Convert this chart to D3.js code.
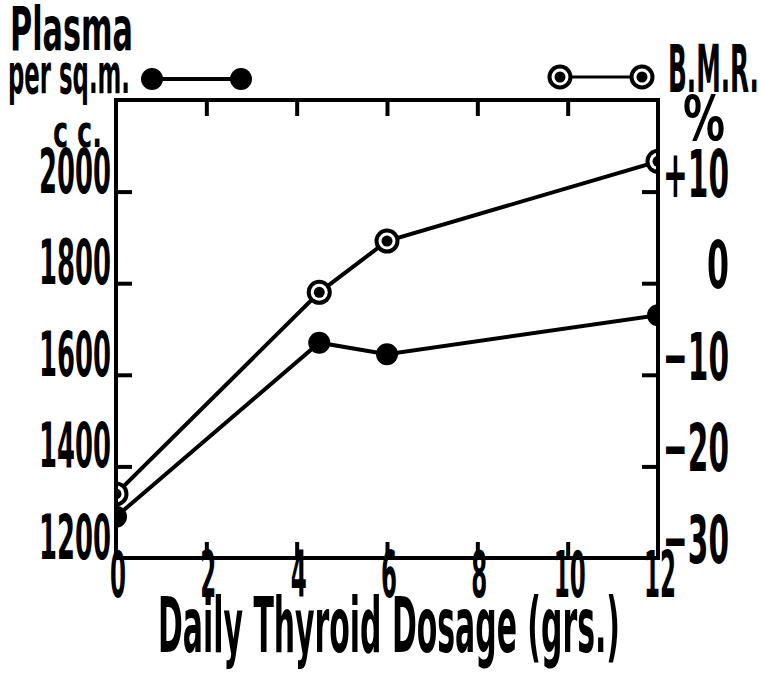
<!DOCTYPE html>
<html>
<head>
<meta charset="utf-8">
<script src="https://cdn.jsdelivr.net/npm/d3@7"></script>
<style>
body { margin: 0; background: #fff; }
svg text {
  font-family: "Liberation Sans Narrow", "DejaVu Sans Condensed", "DejaVu Sans", sans-serif;
  font-weight: bold;
  fill: #000;
}
</style>
</head>
<body>
<div id="vis-svg"></div>
<script>
// values
var dosage = [0, 4.5, 6, 12];
var plasma = [1290, 1670, 1645, 1730];
var bmr = [-23, -1, 4.6, 13.3];

var xTicks = [0, 2, 4, 6, 8, 10, 12];
var plasmaTicks = [1200, 1400, 1600, 1800, 2000];
var bmrTicks = [-30, -20, -10, 0, 10];
var bmrTickLabels = ["\u221230", "\u221220", "\u221210", "0", "+10"];

var width = 761;
var height = 687;

var svg = d3
.select("#vis-svg")
.append("svg")
.attr("width", width)
.attr("height", height);

var x = d3.scaleLinear().domain([0, 12]).range([116, 658]);
var yLeft = d3.scaleLinear().domain([1200, 2200]).range([558, 100]);
var yRight = d3.scaleLinear().domain([-30, 20]).range([558, 100]);

var plasmaData = dosage.map(function(d, i) { return { x: d, y: plasma[i] }; });
var bmrData = dosage.map(function(d, i) { return { x: d, y: bmr[i] }; });

// clip markers to the frame, like the original
svg.append("clipPath")
.attr("id", "plot-clip")
.append("rect")
.attr("x", x(0))
.attr("y", yLeft(2200))
.attr("width", x(12) - x(0))
.attr("height", yLeft(1200) - yLeft(2200));

var plot = svg.append("g").attr("clip-path", "url(#plot-clip)");

var linePlasma = d3.line()
.x(function(d) { return x(d.x); })
.y(function(d) { return yLeft(d.y); });

var lineBmr = d3.line()
.x(function(d) { return x(d.x); })
.y(function(d) { return yRight(d.y); });

plot.append("path")
.datum(plasmaData)
.attr("d", linePlasma)
.attr("fill", "none")
.attr("stroke", "#000")
.attr("stroke-width", 4);

plot.append("path")
.datum(bmrData)
.attr("d", lineBmr)
.attr("fill", "none")
.attr("stroke", "#000")
.attr("stroke-width", 4);

plot.selectAll(".dot-plasma")
.data(plasmaData)
.enter()
.append("circle")
.attr("class", "dot-plasma")
.attr("cx", function(d) { return x(d.x); })
.attr("cy", function(d) { return yLeft(d.y); })
.attr("r", 11)
.attr("fill", "#000");

function ringMarker(g, cx, cy) {
  g.append("circle").attr("cx", cx).attr("cy", cy).attr("r", 12.5).attr("fill", "#000");
  g.append("circle").attr("cx", cx).attr("cy", cy).attr("r", 8.5).attr("fill", "#fff");
  g.append("circle").attr("cx", cx).attr("cy", cy).attr("r", 5.5).attr("fill", "#000");
}

bmrData.forEach(function(d) {
  ringMarker(plot, x(d.x), yRight(d.y));
});

// frame
svg.append("rect")
.attr("x", x(0))
.attr("y", yLeft(2200))
.attr("width", x(12) - x(0))
.attr("height", yLeft(1200) - yLeft(2200))
.attr("fill", "none")
.attr("stroke", "#000")
.attr("stroke-width", 4);

function styleAxis(g) {
  g.select(".domain").remove();
  g.selectAll("text").remove();
  g.selectAll("line").attr("stroke", "#000").attr("stroke-width", 4);
}

var innerX = xTicks.slice(1, -1);

svg.append("g")
.attr("transform", "translate(0," + yLeft(1200) + ")")
.call(d3.axisTop(x).tickValues(innerX).tickSize(16))
.call(styleAxis);

svg.append("g")
.attr("transform", "translate(0," + yLeft(2200) + ")")
.call(d3.axisBottom(x).tickValues(innerX).tickSize(16))
.call(styleAxis);

svg.append("g")
.attr("transform", "translate(" + x(0) + ",0)")
.call(d3.axisRight(yLeft).tickValues(plasmaTicks.slice(1)).tickSize(16))
.call(styleAxis);

svg.append("g")
.attr("transform", "translate(" + x(12) + ",0)")
.call(d3.axisLeft(yRight).tickValues(bmrTicks.slice(1)).tickSize(16))
.call(styleAxis);

// tick labels, squeezed to the narrow hand lettering (start-anchored so
// textLength does not shift them)
function xLen(d) { return String(d).length * 16; }

svg.selectAll(".xlab")
.data(xTicks)
.enter()
.append("text")
.attr("class", "xlab")
.attr("x", function(d) { return x(d) + 2 - xLen(d) / 2; })
.attr("y", 597)
.attr("font-size", 64)
.attr("textLength", xLen)
.attr("lengthAdjust", "spacingAndGlyphs")
.text(function(d) { return d; });

svg.selectAll(".ylab")
.data(plasmaTicks)
.enter()
.append("text")
.attr("class", "ylab")
.attr("x", 111 - 72)
.attr("y", function(d) { return yLeft(d) + 1; })
.attr("font-size", 63)
.attr("textLength", 72)
.attr("lengthAdjust", "spacingAndGlyphs")
.text(function(d) { return d; });

function rLen(i) { return bmrTickLabels[i].length * 22; }

svg.selectAll(".rlab")
.data(bmrTicks)
.enter()
.append("text")
.attr("class", "rlab")
.attr("x", function(d, i) { return 729 - rLen(i); })
.attr("y", function(d) { return yRight(d) + 5; })
.attr("font-size", 66)
.attr("textLength", function(d, i) { return rLen(i); })
.attr("lengthAdjust", "spacingAndGlyphs")
.text(function(d, i) { return bmrTickLabels[i]; });

function label(txt, lx, ly, size, len) {
  svg.append("text")
  .attr("x", lx)
  .attr("y", ly)
  .attr("font-size", size)
  .attr("textLength", len)
  .attr("lengthAdjust", "spacingAndGlyphs")
  .text(txt);
}

label("Plasma", 10, 50, 60, 123);
label("per sq.m.", 8, 93, 56, 122);
label("c c.", 53, 147, 44, 49);
label("B.M.R.", 668, 92, 66, 91);
label("%", 683, 140, 62, 42);
label("Daily Thyroid  Dosage (grs.)", 158, 652, 76, 462);

// legend keys
svg.append("line")
.attr("x1", 152).attr("x2", 241)
.attr("y1", 79).attr("y2", 79)
.attr("stroke", "#000")
.attr("stroke-width", 4);
svg.append("circle").attr("cx", 152).attr("cy", 79).attr("r", 11).attr("fill", "#000");
svg.append("circle").attr("cx", 241).attr("cy", 79).attr("r", 11).attr("fill", "#000");

svg.append("line")
.attr("x1", 560).attr("x2", 642)
.attr("y1", 77).attr("y2", 77)
.attr("stroke", "#000")
.attr("stroke-width", 3);
ringMarker(svg, 560, 77);
ringMarker(svg, 642, 77);
</script>
</body>
</html>
